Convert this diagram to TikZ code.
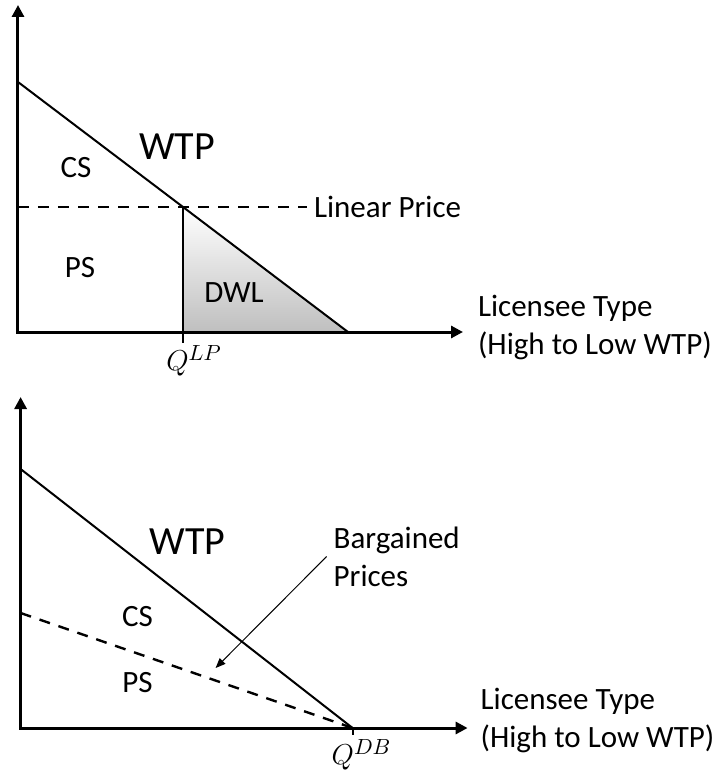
\documentclass[tikz,border=0pt]{standalone}
\usepackage{fontspec}
\setmainfont{Carlito}
\usetikzlibrary{arrows.meta}
\usetikzlibrary{calc}
\usetikzlibrary{positioning}

\tikzset{
  axis/.style={line width=1.5pt,{Triangle[length=6pt,width=6pt]}-{Triangle[length=6pt,width=6pt]}},
  wtp/.style={line width=1pt},
  qline/.style={line width=0.9pt},
  pricedash/.style={line width=1.2pt,dash pattern=on 5.5pt off 4.5pt},
  lbl/.style={font=\fontsize{15.5}{19}\selectfont},
  biglbl/.style={font=\fontsize{20}{24}\selectfont},
}

\begin{document}
\begin{tikzpicture}[x=5pt,y=5pt]
        \useasboundingbox (-1.8,33.2) rectangle (69.7,-44.4);

        % Top: linear price
        \coordinate (Y1) at (0,32.7);
        \coordinate (O1) at (0,0);
        \coordinate (X1) at (44.5,0);
        \coordinate (P1) at (0,25);
        \coordinate (E1) at (33,0);
        \coordinate (M1) at (16.5,12.5);
        \coordinate (F1) at (16.5,0);
        \coordinate (T1) at (16.5,-1.1);
        \coordinate (L1) at (0,12.5);

        \shade[top color=white, bottom color=gray!50] (M1) -- (F1) -- (E1) -- cycle;
        \draw[axis] (Y1) -- (O1) -- (X1);
        \draw[wtp] (P1) -- (E1);
        \draw[qline] (M1) -- (T1);

        \node[lbl,anchor=west] (lp) at (28.9,12.5) {Linear Price};
        \draw[pricedash] (L1) -- (lp.west);

        \node[biglbl] (wtp1) at (15.9,18.5) {WTP};
        \node[lbl] (cs1) at (5.8,16.4) {CS};
        \node[lbl] (ps1) at (6.2,6.4) {PS};
        \node[lbl] (dwl) at (21.6,3.9) {DWL};
        \node[lbl] (qlp) at (17.6,-2.9) {$Q^{LP}$};
        \node[lbl,anchor=west,align=left] (xlab1) at (45.3,0.45) {Licensee Type\\(High to Low WTP)};

        % Bottom: bargained prices
        \begin{scope}[shift={(0.26,-39.6)}]
          \coordinate (Y2) at (0,33.1);
          \coordinate (O2) at (0,0);
          \coordinate (X2) at (44.7,0);
          \coordinate (P2) at (0,25.9);
          \coordinate (B2) at (0,11.5);
          \coordinate (E2) at (33.2,0);
          \coordinate (T2) at (33.2,-0.7);
          \coordinate (bpTip) at (19.5,6.0);

          \draw[axis] (Y2) -- (O2) -- (X2);
          \draw[wtp] (P2) -- (E2);
          \draw[pricedash] (B2) -- (E2);
          \draw[qline] (E2) -- (T2);

          \node[biglbl] (wtp2) at (16.7,18.6) {WTP};
          \node[lbl] (cs2) at (11.7,11.1) {CS};
          \node[lbl] (ps2) at (11.7,4.5) {PS};
          \node[lbl,anchor=west,align=left] (bp) at (30.6,17.15) {Bargained\\Prices};
          \draw[line width=0.5pt,-{Triangle[length=5pt,width=4pt]}] (bp.west) -- (bpTip);
          \node[lbl] (qdb) at (34.1,-2.7) {$Q^{DB}$};
          \node[lbl,anchor=west,align=left] (xlab2) at (45.3,0.8) {Licensee Type\\(High to Low WTP)};
        \end{scope}
\end{tikzpicture}
\end{document}
